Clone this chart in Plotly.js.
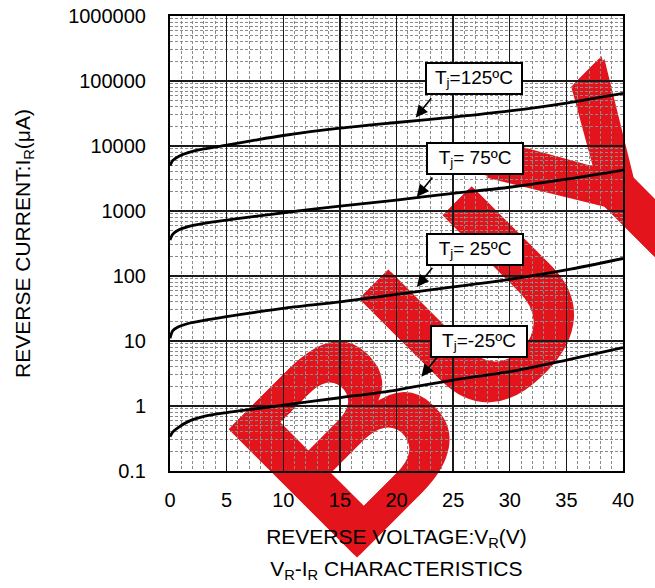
<!DOCTYPE html>
<html>
<head>
<meta charset="utf-8">
<script src="https://cdn.plot.ly/plotly-3.0.1.min.js"></script>
<style>html,body{margin:0;padding:0;background:#fff;}#chart{width:655px;height:588px;}</style>
</head>
<body>
<div id="chart"></div>
<script>
// ---- data ----
const voltage = [0, 0.25, 0.75, 1.6, 3, 5, 7.5, 10, 15, 20, 25, 30, 35, 40];
const current125 = [5000, 6000, 6900, 7900, 9000, 10300, 12300, 14500, 18800, 23000, 27800, 34700, 45800, 64600];
const current75 = [358, 440, 510, 575, 645, 725, 825, 940, 1190, 1470, 1870, 2320, 3080, 4270];
const current25 = [11, 14.4, 16.5, 18.6, 20.8, 23.7, 27.5, 31.8, 40, 52, 68, 89, 124, 186];
const currentM25 = [0.337, 0.40, 0.47, 0.575, 0.69, 0.79, 0.9, 1.03, 1.34, 1.76, 2.51, 3.37, 5.1, 7.9];
const seriesLabels = ['T<sub>j</sub>=125ºC', 'T<sub>j</sub>= 75ºC', 'T<sub>j</sub>= 25ºC', 'T<sub>j</sub>=-25ºC'];
const yTickVals = [0.1, 1, 10, 100, 1000, 10000, 100000, 1000000];
const yTickText = ['0.1', '1', '10', '100', '1000', '10000', '100000', '1000000'];
const xTickVals = [0, 5, 10, 15, 20, 25, 30, 35, 40];
const xTickText = ['0', '5', '10', '15', '20', '25', '30', '35', '40'];

// ---- derived grid positions ----
const yMinor = [];
for (let i = 0; i < yTickVals.length - 1; i++) {
  for (let k = 2; k <= 9; k++) yMinor.push(k * yTickVals[i]);
}
const xMinor = [];
for (let v = 0; v <= 40; v++) if (v % 5 !== 0) xMinor.push(v);

const FONT = 'Liberation Sans, Arial, sans-serif';
const RED = '#e3141c';
const series = [current125, current75, current25, currentM25];
const traces = series.map((ys, i) => ({
  x: voltage, y: ys, type: 'scatter', mode: 'lines', name: seriesLabels[i],
  line: {color: '#000', width: 2.8, shape: 'spline', smoothing: 0.8},
  hoverinfo: 'skip'
}));

// label box centres (x data, log10 y) and arrow tips (x data, y data)
const boxPos = [[26.8, 5.04], [26.9, 3.81], [26.9, 2.41], [27.25, 1.0]];
const tipPos = [[21.7, 27500], [21.8, 1660], [21.8, 68], [22.2, 2.83]];

const annotations = [];
seriesLabels.forEach((t, i) => {
  annotations.push({
    x: boxPos[i][0], y: boxPos[i][1], xref: 'x', yref: 'y',
    text: t, showarrow: false,
    font: {family: FONT, size: 19, color: '#000'},
    bgcolor: '#fff', bordercolor: '#000', borderwidth: 2, borderpad: 1,
    width: 92, height: 27, align: 'center', valign: 'middle'
  });
  annotations.push({
    x: tipPos[i][0], y: Math.log10(tipPos[i][1]), xref: 'x', yref: 'y',
    text: ' ', font: {size: 1}, showarrow: true,
    ax: 17, ay: -21, arrowhead: 2, arrowsize: 1.5, arrowwidth: 1.6,
    arrowcolor: '#000', standoff: 0, startstandoff: 0
  });
});

const s = '2px';
const layout = {
  width: 655, height: 588,
  margin: {l: 170, r: 32, t: 16, b: 117},
  paper_bgcolor: '#fff', plot_bgcolor: 'rgba(0,0,0,0)',
  showlegend: false,
  font: {family: FONT, color: '#000'},
  title: {
    text: 'V<sub>R</sub>-I<sub>R</sub> CHARACTERISTICS',
    font: {family: FONT, size: 21, color: '#000'},
    x: 0.605, xanchor: 'center', y: 0.033, yanchor: 'middle', xref: 'container', yref: 'container'
  },
  xaxis: {
    range: [0, 40], tickmode: 'array', tickvals: xTickVals, ticktext: xTickText,
    ticks: '', ticklabelstandoff: 10,
    tickfont: {family: FONT, size: 20, color: '#000'},
    showgrid: true, gridcolor: '#1a1a1a', gridwidth: 1.3,
    zeroline: false, showline: true, linecolor: '#000', linewidth: 2, mirror: true,
    minor: {tickmode: 'array', tickvals: xMinor, showgrid: true, gridcolor: '#8a8a8a', gridwidth: 1, griddash: '3px,2px', ticks: ''},
    title: {text: 'REVERSE VOLTAGE:V<sub>R</sub>(V)', font: {family: FONT, size: 21, color: '#000'}, standoff: 19},
    automargin: false, fixedrange: true
  },
  yaxis: {
    type: 'log', range: [-1, 6], tickmode: 'array', tickvals: yTickVals, ticktext: yTickText,
    ticks: '', ticklabelstandoff: 18,
    tickfont: {family: FONT, size: 20, color: '#000'},
    showgrid: true, gridcolor: '#1a1a1a', gridwidth: 1.2,
    zeroline: false, showline: true, linecolor: '#000', linewidth: 2, mirror: true,
    minor: {tickmode: 'array', tickvals: yMinor, showgrid: true, gridcolor: '#8a8a8a', gridwidth: 1, griddash: '3px,2px', ticks: ''},
    title: {text: 'REVERSE CURRENT:I<sub>R</sub>(μA)', font: {family: FONT, size: 21, color: '#000'}, standoff: 32},
    automargin: false, fixedrange: true
  },
  shapes: [{
    type: 'line', xref: 'paper', yref: 'paper', layer: 'below',
    x0: 0.568, y0: 0.323, x1: 0.700, y1: 0.455,
    line: {color: 'rgba(0,0,0,0)', width: 0},
    label: {text: '<b>BUY</b>', textposition: 'middle', textangle: -45, yanchor: 'middle',
            font: {family: FONT, size: 258, weight: 'bold', color: RED,
                   shadow: `${s} ${s} 0 ${RED}, -${s} -${s} 0 ${RED}, ${s} -${s} 0 ${RED}, -${s} ${s} 0 ${RED}`}}
  }],
  annotations: annotations
};

Plotly.newPlot('chart', traces, layout, {staticPlot: true, displayModeBar: false});
</script>
</body>
</html>
